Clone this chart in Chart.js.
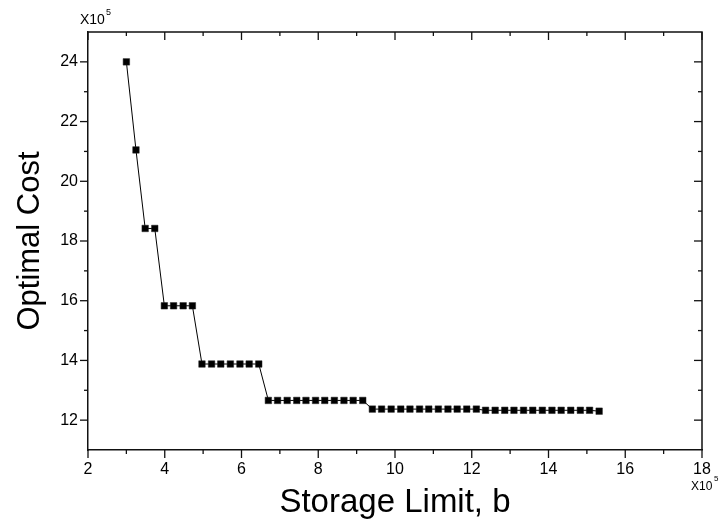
<!DOCTYPE html>
<html>
<head>
<meta charset="utf-8">
<script src="https://cdn.jsdelivr.net/npm/chart.js@4/dist/chart.umd.min.js"></script>
<style>
  html, body { margin: 0; padding: 0; background: #fff; }
  #wrap { width: 724px; height: 525px; }
</style>
</head>
<body>
<div id="wrap"><canvas id="c" width="724" height="525"></canvas></div>
<script>
// Storage limit b (x10^5)
const storageLimit = [3.00,3.25,3.49,3.74,3.99,4.23,4.48,4.72,4.97,5.22,5.46,5.71,5.96,6.20,6.45,
  6.70,6.94,7.19,7.44,7.68,7.93,8.17,8.42,8.67,8.91,9.16,
  9.41,9.65,9.90,10.15,10.39,10.64,10.88,11.13,11.38,11.62,11.87,12.12,
  12.36,12.61,12.86,13.10,13.35,13.59,13.84,14.09,14.33,14.58,14.83,15.07,15.32];
// Optimal cost (x10^5)
const optimalCost = [24.00,21.05,18.42,18.42,15.83,15.83,15.83,15.83,
  13.88,13.88,13.88,13.88,13.88,13.88,13.88,
  12.66,12.66,12.66,12.66,12.66,12.66,12.66,12.66,12.66,12.66,12.66,
  12.37,12.37,12.37,12.37,12.37,12.37,12.37,12.37,12.37,12.37,12.37,12.37,
  12.33,12.33,12.33,12.33,12.33,12.33,12.33,12.33,12.33,12.33,12.33,12.33,12.30];
const xTickLabels = [2,4,6,8,10,12,14,16,18];
const yTickLabels = [12,14,16,18,20,22,24];
const xMinorTicks = [3,5,7,9,11,13,15,17];
const yMinorTicks = [13,15,17,19,21,23];

const FONT = "'Liberation Sans', Arial, Helvetica, sans-serif";

const framePlugin = {
  id: 'frame',
  afterDraw(chart) {
    const ctx = chart.ctx;
    const xs = chart.scales.x, ys = chart.scales.y;
    const a = chart.chartArea;
    ctx.save();
    ctx.strokeStyle = '#111';
    ctx.lineWidth = 1.5;
    ctx.beginPath();
    ctx.moveTo(a.left, a.top); ctx.lineTo(a.right, a.top); ctx.lineTo(a.right, a.bottom);
    ctx.stroke();
    ctx.lineWidth = 1.3;
    const tick = (x1, y1, x2, y2) => { ctx.beginPath(); ctx.moveTo(x1, y1); ctx.lineTo(x2, y2); ctx.stroke(); };
    xTickLabels.forEach(v => { const p = xs.getPixelForValue(v);
      tick(p, a.bottom, p, a.bottom + 8); tick(p, a.top, p, a.top + 8); });
    xMinorTicks.forEach(v => { const p = xs.getPixelForValue(v);
      tick(p, a.bottom, p, a.bottom + 4); tick(p, a.top, p, a.top + 4); });
    yTickLabels.forEach(v => { const p = ys.getPixelForValue(v);
      tick(a.left, p, a.left - 8, p); tick(a.right, p, a.right - 8, p); });
    yMinorTicks.forEach(v => { const p = ys.getPixelForValue(v);
      tick(a.left, p, a.left - 4, p); tick(a.right, p, a.right - 4, p); });
    ctx.fillStyle = '#000';
    ctx.textBaseline = 'alphabetic';
    ctx.textAlign = 'left';
    ctx.font = '14px ' + FONT;
    ctx.fillText('X10', 80, 24);
    ctx.font = '9px ' + FONT;
    ctx.fillText('5', 106, 15);
    ctx.font = '12px ' + FONT;
    ctx.fillText('X10', 691, 490);
    ctx.font = '8px ' + FONT;
    ctx.fillText('5', 714, 481);
    ctx.restore();
  }
};

new Chart(document.getElementById('c'), {
  type: 'line',
  data: {
    datasets: [{
      data: storageLimit.map((x, i) => ({ x: x, y: optimalCost[i] })),
      borderColor: '#000',
      borderWidth: 1,
      tension: 0,
      pointStyle: 'rect',
      pointRadius: 4.6,
      pointBackgroundColor: '#000',
      pointBorderColor: '#222',
      pointBorderWidth: 0.5
    }]
  },
  options: {
    responsive: false,
    animation: false,
    events: [],
    layout: { padding: { top: 32, right: 22, left: 0, bottom: 0 } },
    plugins: { legend: { display: false }, tooltip: { enabled: false } },
    scales: {
      x: {
        type: 'linear', min: 2, max: 18,
        afterFit(s) { s.height = 75; },
        afterBuildTicks(s) { s.ticks = xTickLabels.map(v => ({ value: v })); },
        grid: { display: true, drawOnChartArea: false, drawTicks: false },
        border: { display: true, color: '#111', width: 1.5 },
        ticks: { autoSkip: false, maxRotation: 0, padding: 10, color: '#000',
                 font: { family: FONT, size: 16 } },
        title: { display: true, text: 'Storage Limit, b', color: '#000',
                 font: { family: FONT, size: 33 }, padding: { top: 0, bottom: 2 } }
      },
      y: {
        type: 'linear', min: 11, max: 25,
        afterFit(s) { s.width = 88; },
        afterBuildTicks(s) { s.ticks = yTickLabels.map(v => ({ value: v })); },
        grid: { display: true, drawOnChartArea: false, drawTicks: false },
        border: { display: true, color: '#111', width: 1.5 },
        ticks: { autoSkip: false, padding: 10, color: '#000',
                 font: { family: FONT, size: 16 } },
        title: { display: true, text: 'Optimal Cost', color: '#000',
                 font: { family: FONT, size: 31 }, padding: { top: 12, bottom: 0 } }
      }
    }
  },
  plugins: [framePlugin]
});
</script>
</body>
</html>
